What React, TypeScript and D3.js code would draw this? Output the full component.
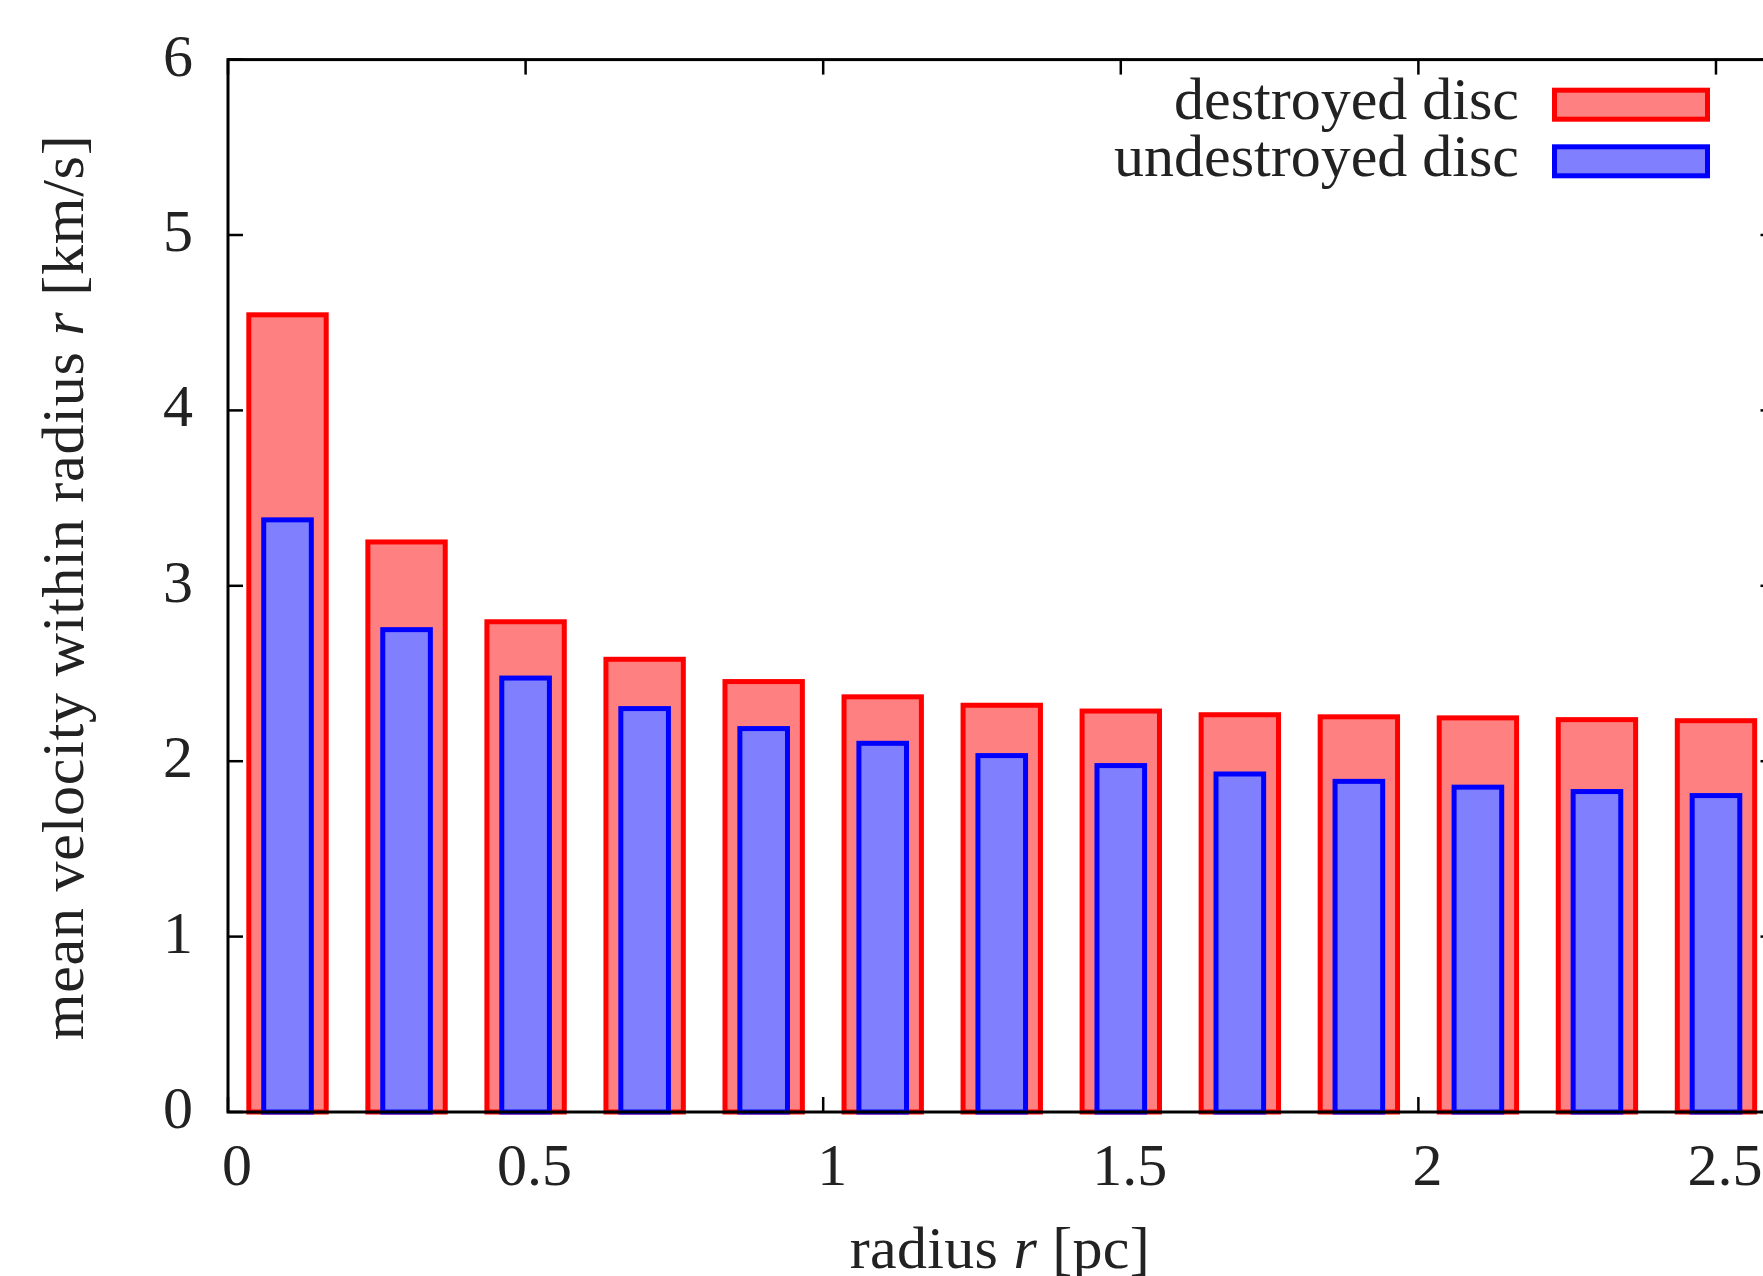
import React, { useEffect, useRef } from 'react';
import * as d3 from 'd3';

// bar centres (pc) and mean velocities (km/s)
const radii = [0.1, 0.3, 0.5, 0.7, 0.9, 1.1, 1.3, 1.5, 1.7, 1.9, 2.1, 2.3, 2.5];
const destroyed = [4.545, 3.25, 2.795, 2.581, 2.454, 2.367, 2.319, 2.286, 2.265, 2.253, 2.247, 2.237, 2.231];
const undestroyed = [3.376, 2.75, 2.474, 2.3, 2.186, 2.102, 2.032, 1.975, 1.927, 1.885, 1.852, 1.827, 1.804];

const xTicks = [0, 0.5, 1, 1.5, 2, 2.5];
const xTickLabels = ['0', '0.5', '1', '1.5', '2', '2.5'];
const yTicks = [0, 1, 2, 3, 4, 5, 6];
const yTickLabels = ['0', '1', '2', '3', '4', '5', '6'];

const seriesNames = ['destroyed disc', 'undestroyed disc'];

const App = () => {
  const svgRef = useRef(null);

  useEffect(() => {
    const width = 1763;
    const height = 1276;
    const left = 228;
    const right = 1775.5;
    const top = 59.6;
    const bottom = 1112;
    const font = '"Liberation Serif", "Times New Roman", serif';
    const fontSize = 60;

    const svg = d3.select(svgRef.current);
    svg.selectAll('*').remove();
    svg.attr('width', width).attr('height', height);

    const x = d3.scaleLinear().domain([0, 2.6]).range([left, right]);
    const y = d3.scaleLinear().domain([0, 6]).range([bottom, top]);

    const tickLen = 15;
    const ticks = svg.append('g').attr('stroke', '#000').attr('stroke-width', 2.5);

    // x ticks, bottom and mirrored on top
    ticks.selectAll('.xb').data(xTicks).enter().append('line')
      .attr('x1', d => x(d)).attr('x2', d => x(d))
      .attr('y1', bottom).attr('y2', bottom - tickLen);
    ticks.selectAll('.xt').data(xTicks).enter().append('line')
      .attr('x1', d => x(d)).attr('x2', d => x(d))
      .attr('y1', top).attr('y2', top + tickLen);
    // y ticks, left and mirrored on right
    ticks.selectAll('.yl').data(yTicks).enter().append('line')
      .attr('x1', left).attr('x2', left + tickLen)
      .attr('y1', d => y(d)).attr('y2', d => y(d));
    ticks.selectAll('.yr').data(yTicks).enter().append('line')
      .attr('x1', right).attr('x2', right - tickLen)
      .attr('y1', d => y(d)).attr('y2', d => y(d));

    const redW = 0.13;
    const blueW = 0.08;

    svg.append('g').selectAll('rect')
      .data(radii.map((r, i) => ({ r, v: destroyed[i] })))
      .enter().append('rect')
      .attr('x', d => x(d.r - redW / 2))
      .attr('y', d => y(d.v))
      .attr('width', x(redW) - x(0))
      .attr('height', d => y(0) - y(d.v))
      .attr('fill', '#ff8080')
      .attr('stroke', '#ff0000')
      .attr('stroke-width', 5);

    svg.append('g').selectAll('rect')
      .data(radii.map((r, i) => ({ r, v: undestroyed[i] })))
      .enter().append('rect')
      .attr('x', d => x(d.r - blueW / 2))
      .attr('y', d => y(d.v))
      .attr('width', x(blueW) - x(0))
      .attr('height', d => y(0) - y(d.v))
      .attr('fill', '#8080ff')
      .attr('stroke', '#0000ff')
      .attr('stroke-width', 5);

    // border
    svg.append('rect')
      .attr('x', left).attr('y', top)
      .attr('width', right - left).attr('height', bottom - top)
      .attr('fill', 'none').attr('stroke', '#000').attr('stroke-width', 3);

    const txt = svg.append('g')
      .attr('font-family', font).attr('font-size', fontSize).attr('fill', '#222');

    txt.selectAll('.xl').data(xTicks).enter().append('text')
      .attr('x', d => x(d) + 9).attr('y', 1185)
      .attr('text-anchor', 'middle')
      .text((d, i) => xTickLabels[i]);

    txt.selectAll('.yl').data(yTicks).enter().append('text')
      .attr('x', 193).attr('y', d => y(d) + 16)
      .attr('text-anchor', 'end')
      .text((d, i) => yTickLabels[i]);

    // axis titles
    const xt = txt.append('text')
      .attr('x', (left + right) / 2 - 2).attr('y', 1268)
      .attr('text-anchor', 'middle')
      .attr('textLength', 300);
    xt.append('tspan').text('radius ');
    xt.append('tspan').attr('font-style', 'italic').text('r');
    xt.append('tspan').text(' [pc]');

    const yt = txt.append('text')
      .attr('transform', `translate(83,${(top + bottom) / 2 + 2}) rotate(-90)`)
      .attr('text-anchor', 'middle')
      .attr('textLength', 905);
    yt.append('tspan').text('mean velocity within radius ');
    yt.append('tspan').attr('font-style', 'italic').text('r');
    yt.append('tspan').text(' [km/s]');

    // legend
    const legend = [
      { name: seriesNames[0], fill: '#ff8080', stroke: '#ff0000', base: 119, y0: 90.2 },
      { name: seriesNames[1], fill: '#8080ff', stroke: '#0000ff', base: 176, y0: 146.8 },
    ];
    legend.forEach(l => {
      txt.append('text')
        .attr('x', 1519).attr('y', l.base)
        .attr('text-anchor', 'end')
        .text(l.name);
      svg.append('rect')
        .attr('x', 1554.5).attr('y', l.y0)
        .attr('width', 153).attr('height', 29)
        .attr('fill', l.fill).attr('stroke', l.stroke).attr('stroke-width', 5);
    });
  }, []);

  return (
    <svg ref={svgRef} style={{ position: 'absolute', left: 0, top: 0, background: '#fff' }} />
  );
};

export default App;
